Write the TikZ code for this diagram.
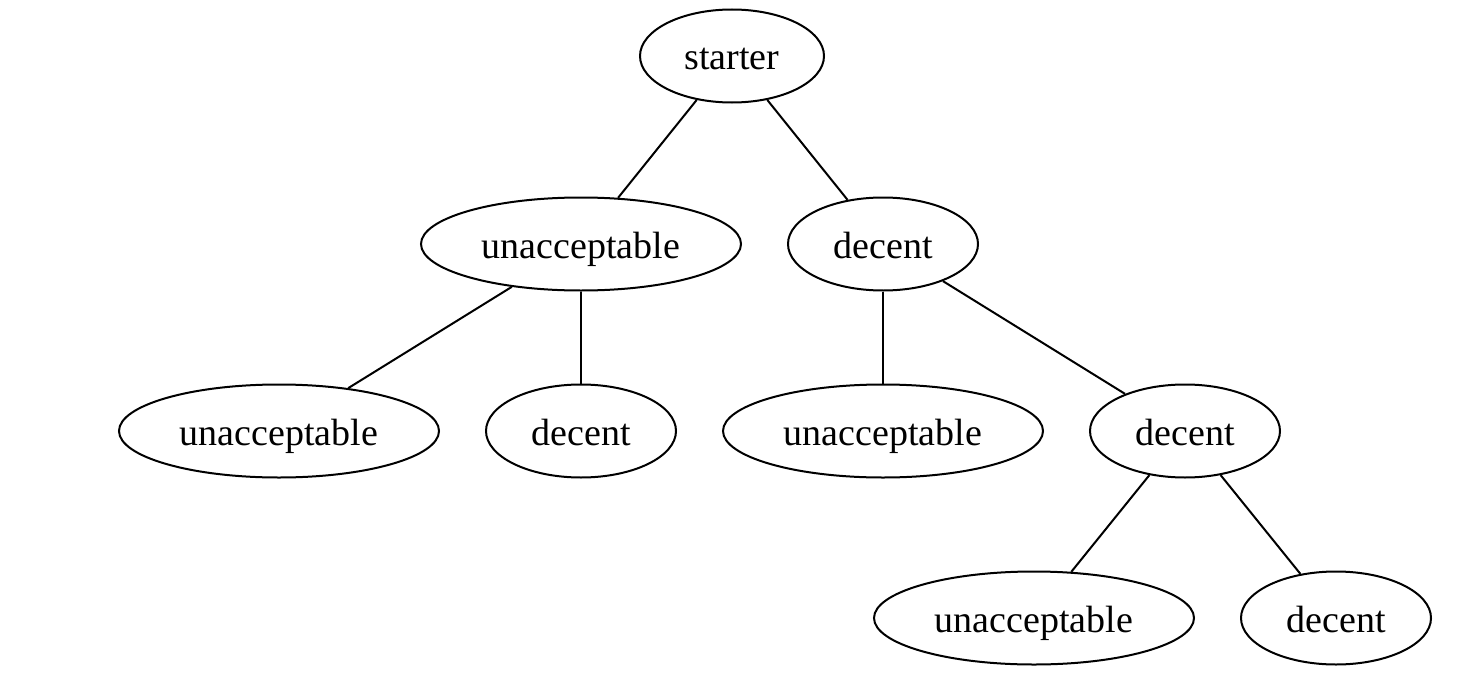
\documentclass[tikz,border=0pt]{standalone}
\usepackage{fontspec}
\setmainfont{Liberation Serif}
\usetikzlibrary{shapes.geometric}
\begin{document}
\begin{tikzpicture}[x=1pt,y=-1pt,
  ell/.style={draw, ellipse, line width=2pt, inner sep=0pt, minimum height=93pt, text height=30pt, text depth=2pt, font=\fontsize{38}{40}\selectfont},
  wide/.style={ell, minimum width=320pt},
  narrow/.style={ell, minimum width=190pt},
  edge/.style={line width=2pt}]
\useasboundingbox (0,0) rectangle (1461,685);
\node[ell, minimum width=184pt] (s) at (732,56) {starter};
\node[wide] (u1) at (581,244) {unacceptable};
\node[narrow] (d1) at (883,244) {decent};
\node[wide] (u2a) at (279,431) {unacceptable};
\node[narrow] (d2a) at (581,431) {decent};
\node[wide] (u2b) at (883,431) {unacceptable};
\node[narrow] (d2b) at (1185,431) {decent};
\node[wide] (u3) at (1034,618) {unacceptable};
\node[narrow] (d3) at (1336,618) {decent};
\draw[edge] (s) -- (u1);
\draw[edge] (s) -- (d1);
\draw[edge] (u1) -- (u2a);
\draw[edge] (u1) -- (d2a);
\draw[edge] (d1) -- (u2b);
\draw[edge] (d1) -- (d2b);
\draw[edge] (d2b) -- (u3);
\draw[edge] (d2b) -- (d3);
\end{tikzpicture}
\end{document}
